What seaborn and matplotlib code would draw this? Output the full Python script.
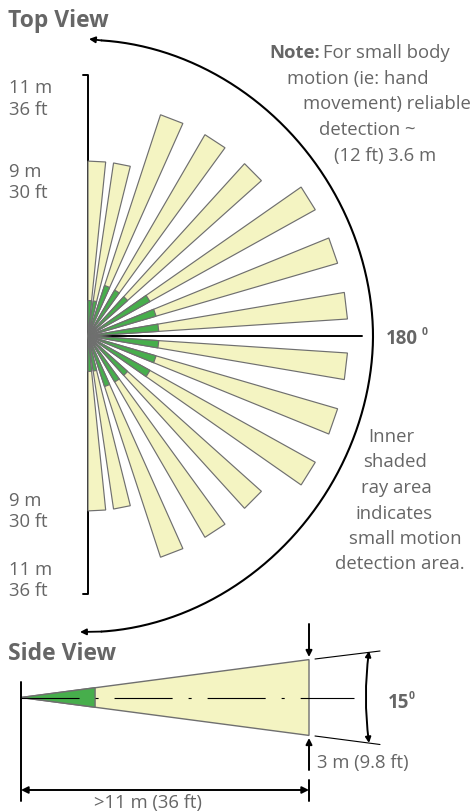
import numpy as np
import pandas as pd
import matplotlib
matplotlib.use("Agg")
import matplotlib.pyplot as plt
from matplotlib.patches import FancyArrowPatch
import seaborn as sns

# ---- data ----
ray_angles_deg = [2.9, 11.2, 21.1, 33.1, 45.2, 58.0, 70.8, 83.3]   # from the vertical
ray_reach_m = [7.4, 7.4, 9.85, 9.85, 9.85, 11.0, 11.0, 11.0]
ray_inner_m = [1.5, 1.5, 2.25, 2.25, 2.25, 3.0, 3.0, 3.0]
ray_half_width_deg = [2.9, 2.8, 2.95, 2.95, 2.95, 2.95, 2.95, 2.95]
side_angle_deg = 15
side_reach_m = 11.0
side_inner_m = 2.83

range_labels_top = [("11 m", 88), ("36 ft", 110), ("9 m", 172), ("30 ft", 193)]
range_labels_bottom = [("9 m", 501), ("30 ft", 522), ("11 m", 570), ("36 ft", 591)]
note_lines = [("motion (ie: hand", 287, 79), ("movement) reliable", 303, 104),
              ("detection ~", 319, 130), ("(12 ft) 3.6 m", 334, 156)]
inner_lines = [("Inner", 368, 437), ("shaded", 363, 462), ("ray area", 361, 488),
               ("indicates", 355, 514), ("small motion", 349, 539), ("detection area.", 335, 564)]

# ---- style ----
sns.set_theme(style="white")
plt.rcParams["font.family"] = ["Open Sans", "DejaVu Sans"]
plt.rcParams["lines.scale_dashes"] = False
YELLOW, GREEN, EDGE, TXT = "#f4f4c2", "#47ae4c", "#6f6f6f", "#666666"
FS = 13.3
LW_BLACK = 1.4

fig = plt.figure(figsize=(4.73, 8.12), dpi=100)
ax = fig.add_axes([0, 0, 1, 1])
ax.set_xlim(0, 473)
ax.set_ylim(812, 0)
ax.axis("off")

OX, OY = 88, 337
PX_PER_M = 260 / 11.0
SX, SY = 21, 698.5
SIDE_PX_PER_M = 288 / 11.0


def line(xs, ys, color="black", lw=LW_BLACK, z=1, **kw):
    frame = pd.DataFrame({"x": xs, "y": ys})
    sns.lineplot(data=frame, x="x", y="y", sort=False, estimator=None, color=color,
                 linewidth=lw, zorder=z, ax=ax, legend=False, **kw)


def arrow(p0, p1, style="-|>", lw=LW_BLACK, scale=9, rad=0.0, z=3):
    ax.add_patch(FancyArrowPatch(p0, p1, arrowstyle=style, mutation_scale=scale,
                                 color="black", lw=lw, shrinkA=0, shrinkB=0,
                                 connectionstyle=f"arc3,rad={rad}", zorder=z))


def ray(center, half, reach_m, sign, color, z):
    a0, a1 = np.radians(center - half), np.radians(center + half)
    r = reach_m * PX_PER_M
    xs = [OX, OX + r * np.sin(a0), OX + r * np.sin(a1)]
    ys = [OY, OY - sign * r * np.cos(a0), OY - sign * r * np.cos(a1)]
    ax.fill(xs, ys, facecolor=color, edgecolor=EDGE, linewidth=0.85, joinstyle="miter", zorder=z)


# range axis and 180 degree line
line([83, OX, OX], [76, 76, 338], z=1)
line([83, OX, OX], [595, 595, 336], z=1)
line([OX, 362], [OY, OY], z=1)

# sensitivity rays
for sign in (1, -1):
    for ang, hw, reach, inner in zip(ray_angles_deg, ray_half_width_deg, ray_reach_m, ray_inner_m):
        ray(ang, hw, reach, sign, YELLOW, 2)
        ray(ang, hw, inner, sign, GREEN, 3)

# outer arc (slightly squarer than an ellipse)
t = np.linspace(np.radians(-87), np.radians(87), 300)
p = 1.93
arc_x = OX + 285 * np.abs(np.cos(t)) ** (2 / p)
arc_y = OY + 296 * np.sign(np.sin(t)) * np.abs(np.sin(t)) ** (2 / p)
line(arc_x, arc_y, lw=1.5, z=1)
arrow((arc_x[0], arc_y[0]), (89, 40), lw=1.3)
arrow((arc_x[-1], arc_y[-1]), (80, 633), lw=1.3)

# side view
half = np.radians(side_angle_deg / 2)
for reach, col, z in [(side_reach_m, YELLOW, 2), (side_inner_m, GREEN, 3)]:
    L = reach * SIDE_PX_PER_M
    ax.fill([SX, SX + L, SX + L], [SY, SY - L * np.tan(half), SY + L * np.tan(half)],
            facecolor=col, edgecolor=EDGE, linewidth=1.0, zorder=z)
side_end = SX + side_reach_m * SIDE_PX_PER_M
line([SX, 354], [SY, SY], lw=0.8, z=4, dashes=(41.8, 11.5, 2.2, 11.5))
line([SX, SX], [683, 802], z=5)
line([side_end, side_end], [781, 802], z=5)
arrow((SX, 791), (side_end, 791), style="<|-|>", scale=10)
arrow((side_end, 625), (side_end, 658), scale=9)
arrow((side_end, 771), (side_end, 739), scale=9)
line([315, 380], [660, 652], lw=0.8)
line([315, 380], [737, 745.5], lw=0.8)
arrow((369, 652), (369, 744), style="<|-|>", scale=8, rad=0.065)


# ---- text ----
def label(s, x, y, size=FS, weight="normal"):
    ax.text(x, y, s, fontsize=size, fontweight=weight, color=TXT, ha="left", va="center", zorder=6)


label("Top View", 8, 21, 16.5, "bold")
label("Side View", 8, 654, 16.5, "bold")
for s, y in range_labels_top + range_labels_bottom:
    label(s, 9, y)
label("Note:", 269, 53, FS, "bold")
label("For small body", 323, 53)
for s, x, y in note_lines + inner_lines:
    label(s, x, y)
label("180", 386, 339, 13.5, "bold")
label("0", 422, 333, 7.5, "bold")
label("15", 388, 703, 13.5, "bold")
label("0", 409, 697, 7.5, "bold")
label("3 m (9.8 ft)", 317, 763)
label(">11 m (36 ft)", 94, 803)

fig.savefig("out.png", dpi=100)
